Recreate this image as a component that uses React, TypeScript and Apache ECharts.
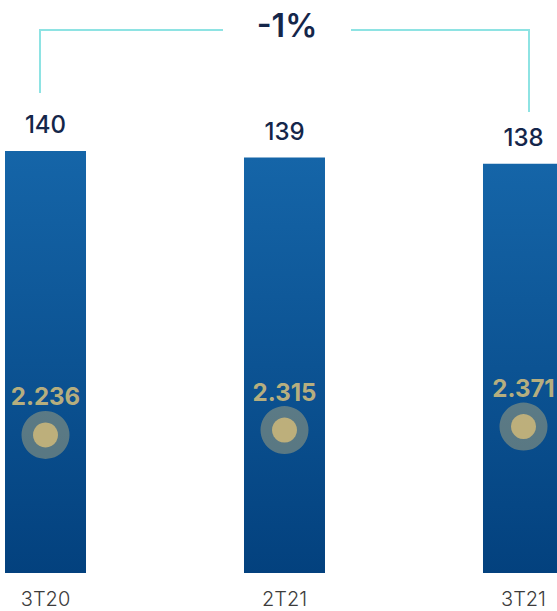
import React, { useEffect, useRef } from "react";
import * as echarts from "echarts";

const categories = ["3T20", "2T21", "3T21"];
const barValues = [140, 139, 138];
const dotValues = [2.236, 2.315, 2.371];
const changeLabel = "-1%";

export default function App() {
  const ref = useRef<HTMLDivElement>(null);
  useEffect(() => {
    if (!ref.current) return;
    const chart = echarts.init(ref.current, null, { renderer: "svg" });
    const font = "Inter, 'Noto Sans', sans-serif";
    const idx = categories.map((_, i) => i);
    chart.setOption({
      animation: false,
      grid: { left: 0, right: 0, top: 21, bottom: 38, containLabel: false },
      xAxis: {
        type: "value",
        min: -0.1904,
        max: 2.1402,
        splitLine: { show: false },
        axisLine: { show: false },
        axisTick: { show: false },
        axisLabel: {
          customValues: idx,
          formatter: (v: number) => categories[Math.round(v)] ?? "",
          color: "#3c3c3c",
          fontSize: 20,
          lineHeight: 20,
          fontFamily: font,
          fontWeight: 300,
          margin: 16,
        },
      },
      yAxis: [
        { type: "value", min: 75, max: 160, show: false, splitLine: { show: false } },
        { type: "value", min: 0, max: 8.94, show: false, splitLine: { show: false } },
      ],
      series: [
        {
          type: "bar",
          data: barValues.map((v, i) => [i, v]),
          barWidth: 81,
          clip: true,
          itemStyle: {
            color: new echarts.graphic.LinearGradient(0, 0, 0, 1, [
              { offset: 0, color: "#1565a8" },
              { offset: 1, color: "#03417e" },
            ]),
          },
          label: {
            show: true,
            position: "top",
            distance: 14,
            color: "#14264a",
            fontSize: 24,
            fontWeight: 500,
            fontFamily: font,
            formatter: (p: any) => String(p.value[1]),
          },
        },
        {
          type: "scatter",
          yAxisIndex: 1,
          data: dotValues.map((v, i) => [i, v]),
          symbolSize: 48,
          clip: false,
          itemStyle: { color: "rgba(212,188,120,0.5)" },
          label: {
            show: true,
            position: "top",
            distance: 2,
            color: "#e6c97a",
            fontSize: 24,
            fontWeight: 700,
            fontFamily: font,
            formatter: (p: any) => p.value[1].toFixed(3),
          },
        },
        {
          type: "scatter",
          yAxisIndex: 1,
          data: dotValues.map((v, i) => [i, v]),
          symbolSize: 25,
          clip: false,
          itemStyle: { color: "#d6bd79" },
        },
      ],
      graphic: [
        {
          type: "polyline",
          shape: { points: [[40, 93], [40, 30], [223, 30]] },
          style: { stroke: "#8ee3e3", lineWidth: 2, fill: null },
        },
        {
          type: "polyline",
          shape: { points: [[351, 30], [529, 30], [529, 112]] },
          style: { stroke: "#8ee3e3", lineWidth: 2, fill: null },
        },
        {
          type: "text",
          x: 287,
          y: 25,
          style: {
            text: changeLabel,
            fill: "#14264a",
            font: `600 32px ${font}`,
            align: "center",
            verticalAlign: "middle",
          },
        },
      ],
    });
    return () => chart.dispose();
  }, []);
  return <div ref={ref} style={{ width: 557, height: 611, position: "absolute", left: 0, top: 0 }} />;
}
